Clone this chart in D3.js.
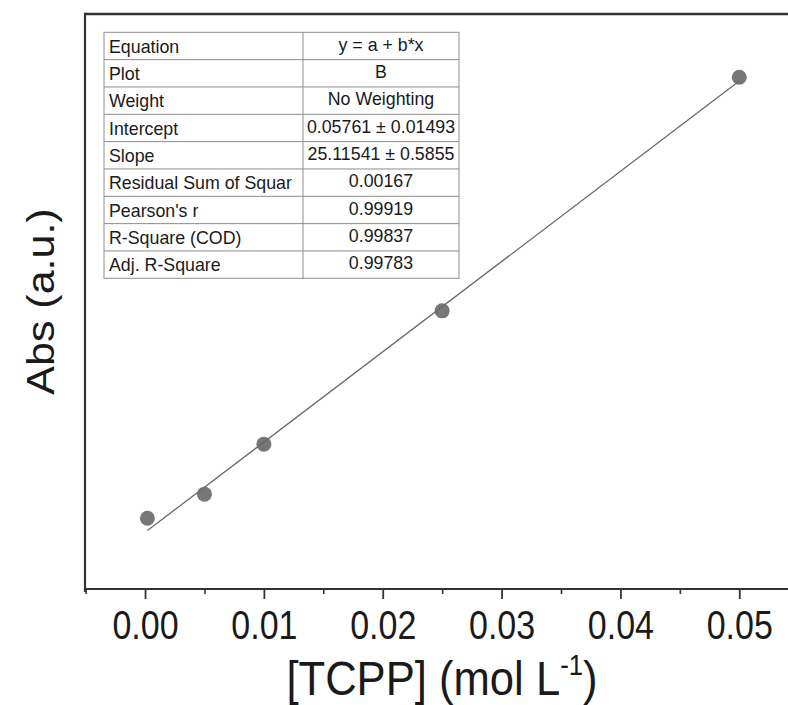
<!DOCTYPE html>
<html>
<head>
<meta charset="utf-8">
<script src="https://cdn.jsdelivr.net/npm/d3@7/dist/d3.min.js"></script>
<style>
  body { margin: 0; background: #fff; }
  text { font-family: "Liberation Sans", Arial, sans-serif; fill: #1a1a1a; }
</style>
</head>
<body>
<svg id="chart"></svg>
<script>
// Data
const concentrations = [0.0002, 0.005, 0.01, 0.025, 0.05];
const absorbances = [0.097, 0.164, 0.303, 0.674, 1.324];

// Fit parameters from the table
const fitIntercept = 0.05761;
const fitSlope = 25.11541;

// Tick values
const xTicks = [0, 0.01, 0.02, 0.03, 0.04, 0.05];
const xMinorTicks = [-0.005, 0.005, 0.015, 0.025, 0.035, 0.045];

// Fit table
const tableLabels = ['Equation', 'Plot', 'Weight', 'Intercept', 'Slope',
  'Residual Sum of Squar', "Pearson's r", 'R-Square (COD)', 'Adj. R-Square'];
const tableValues = ['y = a + b*x', 'B', 'No Weighting', '0.05761 \u00b1 0.01493',
  '25.11541 \u00b1 0.5855', '0.00167', '0.99919', '0.99837', '0.99783'];

const width = 788;
const height = 705;

// Plot frame (right side runs past the window)
const plotLeft = 85, plotTop = 14, plotRight = 799, plotBottom = 589;

const svg = d3.select('#chart').attr('width', width).attr('height', height);

const x = d3.scaleLinear().domain([-0.005, 0.055]).range([85.6, 798.7]);
const y = d3.scaleLinear().domain([-0.1, 1.5]).range([plotBottom, plotTop]);

// Minor ticks
const minorAxis = svg.append('g')
  .attr('transform', `translate(0, ${plotBottom})`)
  .call(d3.axisBottom(x).tickValues(xMinorTicks).tickSize(5).tickFormat(''));
minorAxis.select('.domain').remove();
minorAxis.selectAll('line').attr('stroke', '#333').attr('stroke-width', 1.6);

// Major ticks with labels
const xAxis = svg.append('g')
  .attr('transform', `translate(0, ${plotBottom})`)
  .call(d3.axisBottom(x).tickValues(xTicks).tickSize(10).tickPadding(12).tickFormat(d3.format('.2f')));
xAxis.select('.domain').remove();
xAxis.selectAll('line').attr('stroke', '#333').attr('stroke-width', 1.8);
xAxis.selectAll('text')
  .attr('font-size', 40)
  .attr('font-family', '"Liberation Sans", Arial, sans-serif')
  .attr('fill', '#1a1a1a')
  .attr('transform', 'scale(0.85,1)');

// Frame
const frame = svg.append('g').attr('fill', 'none').attr('stroke', '#333');
frame.append('line').attr('x1', plotLeft).attr('x2', plotRight).attr('y1', plotTop).attr('y2', plotTop).attr('stroke-width', 2.6);
frame.append('line').attr('x1', plotLeft).attr('x2', plotLeft).attr('y1', plotTop - 1.3).attr('y2', plotBottom + 3).attr('stroke-width', 2.2);
frame.append('line').attr('x1', plotLeft).attr('x2', plotRight).attr('y1', plotBottom).attr('y2', plotBottom).attr('stroke-width', 1.8);
frame.append('line').attr('x1', plotRight).attr('x2', plotRight).attr('y1', plotTop).attr('y2', plotBottom).attr('stroke-width', 2);

// Points
svg.append('g').selectAll('circle')
  .data(concentrations)
  .join('circle')
  .attr('cx', d => x(d))
  .attr('cy', (d, i) => y(absorbances[i]))
  .attr('r', 7.5)
  .attr('fill', '#777');

// Fit line
const xExtent = d3.extent(concentrations);
svg.append('path')
  .datum(xExtent)
  .attr('fill', 'none')
  .attr('stroke', '#6a6a6a')
  .attr('stroke-width', 1.3)
  .attr('d', d3.line().x(d => x(d)).y(d => y(fitIntercept + fitSlope * d)));

// Fit table
const tableLeft = 104, tableMid = 303, tableRight = 459;
const rows = d3.scaleBand().domain(d3.range(tableLabels.length)).range([32.3, 278.3]);
const table = svg.append('g');
table.append('rect')
  .attr('x', tableLeft).attr('y', rows.range()[0])
  .attr('width', tableRight - tableLeft).attr('height', rows.range()[1] - rows.range()[0])
  .attr('fill', '#fff').attr('stroke', '#8c8c8c').attr('stroke-width', 1);
table.selectAll('.row-line')
  .data(d3.range(1, tableLabels.length))
  .join('line')
  .attr('x1', tableLeft).attr('x2', tableRight)
  .attr('y1', d => rows(d)).attr('y2', d => rows(d))
  .attr('stroke', '#8c8c8c').attr('stroke-width', 1);
table.append('line')
  .attr('x1', tableMid).attr('x2', tableMid)
  .attr('y1', rows.range()[0]).attr('y2', rows.range()[1])
  .attr('stroke', '#8c8c8c').attr('stroke-width', 1);
table.selectAll('.label')
  .data(tableLabels)
  .join('text')
  .attr('x', tableLeft + 5)
  .attr('y', (d, i) => rows(i) + rows.bandwidth() - 7)
  .attr('font-size', 17.8)
  .text(d => d);
table.selectAll('.value')
  .data(tableValues)
  .join('text')
  .attr('x', (tableMid + tableRight) / 2)
  .attr('y', (d, i) => rows(i) + rows.bandwidth() - 9)
  .attr('text-anchor', 'middle')
  .attr('font-size', 17.8)
  .text(d => d);

// Axis titles
const xTitle = svg.append('g')
  .attr('transform', `translate(${(plotLeft + plotRight) / 2}, 695) scale(0.89,1)`)
  .append('text')
  .attr('text-anchor', 'middle')
  .attr('font-size', 49);
xTitle.append('tspan').text('[TCPP] (mol L');
xTitle.append('tspan').attr('font-size', 29).attr('dy', -20).text('-1');
xTitle.append('tspan').attr('dy', 20).text(')');

svg.append('text')
  .attr('transform', `translate(54, ${(plotTop + plotBottom) / 2}) rotate(-90) scale(1,0.9)`)
  .attr('text-anchor', 'middle')
  .attr('font-size', 43)
  .text('Abs (a.u.)');
</script>
</body>
</html>
